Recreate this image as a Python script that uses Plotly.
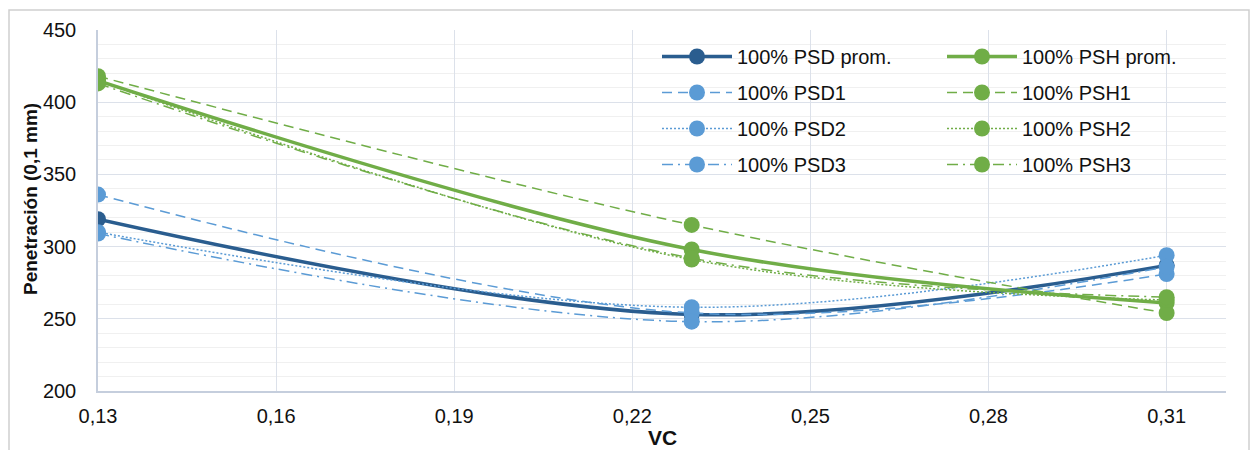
import plotly.graph_objects as go

# Penetración vs VC, mezclas 100% PSD y 100% PSH (tres ensayos y promedio)
vc = [0.13, 0.23, 0.31]

psd_prom = [319, 253, 287]
psd1 = [336, 254, 281]
psd2 = [310, 258, 294]
psd3 = [309, 248, 286]

psh_prom = [415, 298, 261]
psh1 = [418, 315, 254]
psh2 = [415, 291, 263]
psh3 = [413, 292, 265]

x_ticks = [0.13, 0.16, 0.19, 0.22, 0.25, 0.28, 0.31]

DARK_BLUE = "#2A5D8F"
LIGHT_BLUE = "#5B9BD5"
GREEN = "#70AD47"
FONT = "Arial, Liberation Sans, sans-serif"

W, H = 1258, 450
L, R, T, B = 98, 32, 30, 59
PW, PH = W - L - R, H - T - B


def px_x(p):
    return (p - L) / PW


def px_y(p):
    return (H - B - p) / PH


series = [
    ("100% PSD prom.", psd_prom, DARK_BLUE, 3.5, "solid", "legend"),
    ("100% PSD1", psd1, LIGHT_BLUE, 1.5, "10px,6px", "legend"),
    ("100% PSD2", psd2, LIGHT_BLUE, 1.5, "2px,2px", "legend"),
    ("100% PSD3", psd3, LIGHT_BLUE, 1.5, "11px,5px,2px,5px", "legend"),
    ("100% PSH prom.", psh_prom, GREEN, 3.5, "solid", "legend2"),
    ("100% PSH1", psh1, GREEN, 1.5, "10px,6px", "legend2"),
    ("100% PSH2", psh2, GREEN, 1.5, "2px,2px", "legend2"),
    ("100% PSH3", psh3, GREEN, 1.5, "11px,5px,2px,5px", "legend2"),
]

fig = go.Figure()
for i, (name, vals, color, lw, dash, leg) in enumerate(series):
    fig.add_trace(go.Scatter(
        x=vc, y=vals, name=name, mode="lines+markers",
        line=dict(color=color, width=lw, dash=dash, shape="spline", smoothing=1),
        marker=dict(color=color, size=16),
        legend=leg, legendgroup=f"g{i}",
    ))

# Legend background panel
fig.add_shape(type="rect", xref="paper", yref="paper", layer="between",
              x0=px_x(640), x1=px_x(1215), y0=px_y(182), y1=px_y(35),
              fillcolor="white", line=dict(width=0))

# Chart border
fig.add_shape(type="rect", xref="paper", yref="paper",
              x0=px_x(9), x1=px_x(1249), y0=px_y(470), y1=px_y(10),
              fillcolor="rgba(0,0,0,0)", line=dict(color="#CFCFCF", width=1.5))

legend_common = dict(
    orientation="v", xanchor="left", yanchor="top",
    bgcolor="rgba(0,0,0,0)", font=dict(family=FONT, size=20, color="#111111"),
    tracegroupgap=7, itemsizing="trace", itemwidth=70,
)

fig.update_layout(
    width=W, height=H,
    margin=dict(l=L, r=R, t=T, b=B),
    paper_bgcolor="white", plot_bgcolor="white",
    separators=",.",
    font=dict(family=FONT, size=20, color="#111111"),
    legend=dict(x=px_x(657), y=px_y(37), **legend_common),
    legend2=dict(x=px_x(942), y=px_y(37), **legend_common),
    xaxis=dict(
        range=[0.13, 0.32], tick0=0.13, dtick=0.03, tickvals=x_ticks,
        tickformat=".2f", showgrid=True, gridcolor="#DCE1EA", gridwidth=1,
        showline=True, linecolor="#C5CEDD", linewidth=1.5,
        ticks="", ticklabelstandoff=6, zeroline=False,
        tickfont=dict(family=FONT, size=20, color="#111111"),
    ),
    yaxis=dict(
        range=[200, 450], dtick=50, showgrid=True, gridcolor="#DCE1EA", gridwidth=1,
        minor=dict(dtick=10, showgrid=True, gridcolor="#F0F0F0", gridwidth=1),
        showline=True, linecolor="#C5CEDD", linewidth=1.5,
        ticks="", ticklabelstandoff=16, zeroline=False,
        tickfont=dict(family=FONT, size=20, color="#111111"),
    ),
    showlegend=True,
)

fig.add_annotation(text="<b>Penetración (0,1 mm)</b>", xref="paper", yref="paper",
                   x=px_x(30), y=px_y(199), textangle=-90, showarrow=False,
                   xanchor="center", yanchor="middle",
                   font=dict(family=FONT, size=19, color="#111111"))
fig.add_annotation(text="<b>VC</b>", xref="paper", yref="paper",
                   x=0.5, y=px_y(437), showarrow=False,
                   xanchor="center", yanchor="middle",
                   font=dict(family=FONT, size=21, color="#111111"))

fig.write_html("out.html")
